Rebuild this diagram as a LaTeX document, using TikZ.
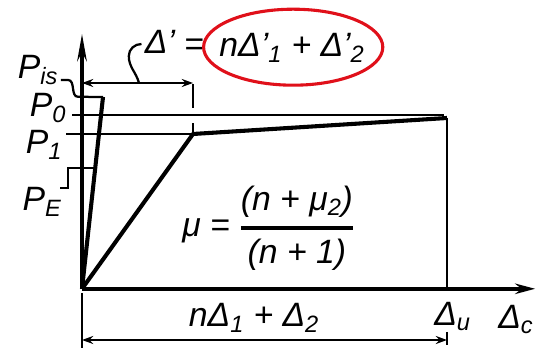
\documentclass[tikz,border=0pt]{standalone}
\usepackage{amsmath}
\usepackage{fontspec}
\setmainfont{Liberation Sans}
\usepackage{tikz}
\usetikzlibrary{
  arrows.meta,
  calc,
  positioning
}
\tikzset{
  >={Stealth[length=2.6mm,width=2mm]},
  figure label/.style={font=\fontsize{24}{28}\selectfont\itshape,inner sep=0pt,text=ink},
  figure formula/.style={font=\fontsize{24}{28}\selectfont\itshape,inner sep=0pt,text=ink},
  axis line/.style={line width=2.6pt,draw=ink},
  load curve/.style={line width=2.9pt,draw=ink,line join=round},
  level line/.style={line width=1.9pt,draw=ink},
  dim line/.style={line width=1.9pt,draw=ink,
    {Stealth[length=2.8mm,width=2mm]}-{Stealth[length=2.8mm,width=2mm]}},
  leader/.style={line width=1.6pt,draw=ink},
  ring/.style={line width=2.2pt,draw=ringred}
}
\definecolor{ink}{HTML}{000000}
\definecolor{ringred}{HTML}{E0101A}

\begin{document}
\begin{tikzpicture}[x=1cm,y=1cm]
  \useasboundingbox (0,0) rectangle (13.4,8.7);

  % axes
  \coordinate (origin) at (2.05,1.48);
  \coordinate (ytop) at (2.05,7.85);
  \coordinate (xend) at (13.38,1.48);
  \draw[axis line,-{Stealth[length=6.8mm,width=2.4mm]}] (origin) -- (ytop);
  \draw[axis line,-{Stealth[length=5mm,width=2.6mm]}] (origin) -- (xend);

  % key points
  \coordinate (peak) at (2.575,6.275);
  \coordinate (knee) at (4.825,5.35);
  \coordinate (ultimate) at (11.175,5.75);
  \coordinate (ubase) at (11.175,1.48);
  \coordinate (pelevel) at ($(origin)!0.63!(peak)$);

  % levels
  \coordinate (p0start) at (1.8,5.825);
  \coordinate (p0end) at (11.1,5.825);
  \coordinate (p1start) at (1.65,5.35);
  \draw[level line] (p0start) -- (p0end);
  \draw[level line] (p1start) -- (knee);
  \draw[level line] (ultimate) -- (ubase);

  % load curves
  \draw[load curve] (origin) -- (peak);
  \draw[load curve] (origin) -- (knee) -- (ultimate);

  % labels of the levels
  \node[figure label] (pis) at (0.95,6.95) {P\textsubscript{is}};
  \node[figure label] (p0) at (1.2,6.0) {P\textsubscript{0}};
  \node[figure label] (p1) at (1.1,5.08) {P\textsubscript{1}};
  \node[figure label] (pe) at (1.05,3.65) {P\textsubscript{E}};

  \coordinate (pisleg) at (1.52,6.7);
  \coordinate (pisaxis) at (1.95,6.28);
  \draw[leader] (pisleg) -- ++(0.18,0) to[out=0,in=180] (pisaxis) -- (peak);
  \coordinate (peleg) at (1.5,4.0);
  \draw[leader] (peleg) -- ++(0.2,0) |- (pelevel);

  % yield displacement
  \coordinate (dimleft) at (2.05,6.625);
  \coordinate (dimright) at (4.825,6.625);
  \coordinate (ticktop) at (4.825,6.6);
  \coordinate (tickbot) at (4.825,6.0);
  \coordinate (kneetick) at (4.825,5.62);
  \draw[dim line] (dimleft) -- (dimright);
  \draw[level line] (ticktop) -- (tickbot);
  \draw[level line] (kneetick) -- (knee);

  \node[figure label] (dprime) at (4.0,7.65) {Δ'};
  \node[figure label] (eqtop) at (4.85,7.52) {=};
  \node[figure label] (sumtop) at (7.3,7.5) {nΔ'\textsubscript{1} + Δ'\textsubscript{2}};
  \draw[ring] (7.33,7.52) ellipse [x radius=2.24cm,y radius=0.95cm];

  \coordinate (dimtap) at (3.475,6.625);
  \draw[leader] (dimtap) to[out=105,in=-90] (3.22,7.3)
    to[out=90,in=180] ($(dprime.west)+(-0.08,-0.05)$);

  % ultimate displacement
  \coordinate (botleft) at (2.05,0.2);
  \coordinate (botright) at (11.175,0.2);
  \coordinate (lefttop) at (2.05,1.38);
  \coordinate (leftbot) at (2.05,0);
  \coordinate (righttop) at (11.175,0.4);
  \coordinate (rightbot) at (11.175,0.08);
  \draw[level line] (lefttop) -- (leftbot);
  \draw[level line] (righttop) -- (rightbot);
  \draw[dim line] (botleft) -- (botright);

  \node[figure label] (sumbot) at (6.35,0.75) {nΔ\textsubscript{1} + Δ\textsubscript{2}};
  \node[figure label,anchor=west] (du) at (10.85,0.78) {Δ\textsubscript{u}};
  \node[figure label,anchor=west] (dc) at (12.45,0.72) {Δ\textsubscript{c}};

  % ductility
  \node[figure formula,anchor=west] (mu) at (4.55,3.0)
    {μ = $\genfrac{}{}{2.2pt}{0}{\mbox{(n + μ\textsubscript{2})}}{\mbox{(n + 1)}}$};
\end{tikzpicture}
\end{document}
